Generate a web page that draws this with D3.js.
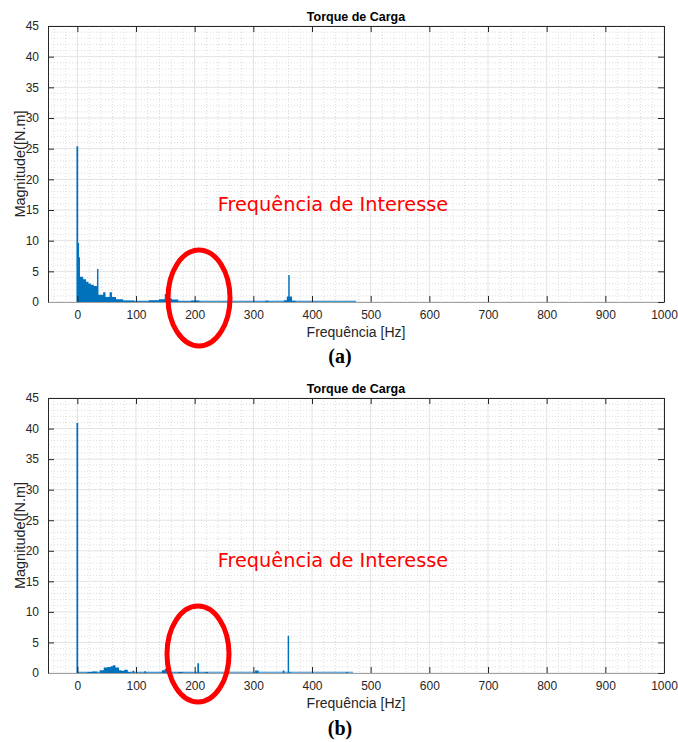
<!DOCTYPE html>
<html>
<head>
<meta charset="utf-8">
<script src="https://cdnjs.cloudflare.com/ajax/libs/d3/7.8.5/d3.min.js"></script>
<style>
  html, body { margin: 0; padding: 0; background: #fff; }
  svg { display: block; }
</style>
</head>
<body>
<svg id="chart" width="678" height="742"></svg>
<script>
// ---------- DATA (step spectrum: value holds from freq[i] to freq[i+1]) ----------
const xTicks = [0, 100, 200, 300, 400, 500, 600, 700, 800, 900, 1000];
const yTicks = [0, 5, 10, 15, 20, 25, 30, 35, 40, 45];

const freqA = [-1.5, 1.5, 3, 4.5, 10, 15, 19, 23, 28, 33.5, 36, 44, 48, 55, 59, 66, 78, 97, 122, 139, 149, 153, 161, 172, 194, 208, 320, 326, 352, 357, 359.5, 362, 366, 372, 475];
const magA  = [25.4, 9.6, 7.3, 4.1, 3.7, 3.3, 3.0, 2.8, 2.6, 5.4, 1.2, 1.6, 0.8, 1.6, 0.8, 0.45, 0.25, 0.12, 0.3, 0.45, 1.3, 0.6, 0.4, 0.12, 0.25, 0.1, 0.2, 0.1, 0.3, 0.9, 4.4, 0.9, 0.2, 0.08, 0];

const freqB = [-1.5, 1.5, 17, 25, 34, 38, 45, 51, 57, 61, 65, 71, 75, 80, 86, 91, 94, 97, 114, 117, 144, 149, 155, 172, 180, 204.5, 207.5, 218, 223, 303, 309, 350, 353, 358.5, 361, 366, 458, 461, 470];
const magB  = [40.9, 0.1, 0.15, 0.25, 0.1, 0.45, 0.9, 1.0, 1.1, 1.25, 0.9, 0.45, 0.35, 0.55, 0.15, 0.08, 0.35, 0.08, 0.3, 0.08, 0.45, 0.7, 0.1, 0.15, 0.08, 1.6, 0.08, 0.15, 0.05, 0.4, 0.05, 0.4, 0.05, 6.1, 0.1, 0.05, 0.15, 0.05, 0];

const titleText = "Torque de Carga";
const xLabelText = "Frequência [Hz]";
const yLabelText = "Magnitude([N.m]";
const noteText = "Frequência de Interesse";
const panelLabels = ["(a)", "(b)"];

// ---------- DRAW ----------
const svg = d3.select("#chart");
const axisColor = "#262626";
const barColor = "#0072BD";

function drawPanel(cfg) {
  const g = svg.append("g");
  const x = d3.scaleLinear().domain([-50, 1000]).range([48, 664]);
  const y = d3.scaleLinear().domain([0, 45]).range([cfg.bottom, cfg.top]);

  // minor grid
  const xMinor = d3.range(-40, 1000, 20).filter(v => v % 100 !== 0);
  const yMinor = d3.range(1, 45, 1).filter(v => v % 5 !== 0);
  g.selectAll(".xm").data(xMinor).join("line")
    .attr("x1", d => x(d)).attr("x2", d => x(d))
    .attr("y1", cfg.top).attr("y2", cfg.bottom)
    .attr("stroke", "#d4d4d4").attr("stroke-width", 0.8).attr("stroke-dasharray", "1,2");
  g.selectAll(".ym").data(yMinor).join("line")
    .attr("x1", 48).attr("x2", 664)
    .attr("y1", d => y(d)).attr("y2", d => y(d))
    .attr("stroke", "#d4d4d4").attr("stroke-width", 0.8).attr("stroke-dasharray", "1,2");
  // major grid
  g.selectAll(".xg").data(xTicks).join("line")
    .attr("x1", d => x(d)).attr("x2", d => x(d))
    .attr("y1", cfg.top).attr("y2", cfg.bottom)
    .attr("stroke", "#e3e3e3").attr("stroke-width", 1);
  g.selectAll(".yg").data(yTicks).join("line")
    .attr("x1", 48).attr("x2", 664)
    .attr("y1", d => y(d)).attr("y2", d => y(d))
    .attr("stroke", "#e3e3e3").attr("stroke-width", 1);

  // near-zero baseline of spectrum
  g.append("line")
    .attr("x1", x(0)).attr("x2", x(cfg.freq[cfg.freq.length - 1]))
    .attr("y1", y(0) - 0.7).attr("y2", y(0) - 0.7)
    .attr("stroke", "#8fbde6").attr("stroke-width", 1.4);

  // spectrum
  const pts = cfg.freq.map((f, i) => [f, cfg.mag[i]]);
  const area = d3.area()
    .x(d => x(d[0])).y0(y(0)).y1(d => y(d[1]))
    .curve(d3.curveStepAfter);
  g.append("path").datum(pts).attr("d", area).attr("fill", barColor);

  // axes (box with inward ticks)
  const axL = d3.axisLeft(y).tickValues(yTicks).tickSizeInner(-6).tickSizeOuter(0).tickPadding(9).tickFormat(d3.format("d"));
  const axB = d3.axisBottom(x).tickValues(xTicks).tickSizeInner(-6).tickSizeOuter(0).tickPadding(8.5).tickFormat(d3.format("d"));
  const axR = d3.axisRight(y).tickValues(yTicks).tickSizeInner(-6).tickSizeOuter(0).tickFormat("");
  const axT = d3.axisTop(x).tickValues(xTicks).tickSizeInner(-6).tickSizeOuter(0).tickFormat("");

  function style(sel) {
    sel.selectAll("path").attr("stroke", axisColor).attr("stroke-width", 1);
    sel.selectAll("line").attr("stroke", axisColor).attr("stroke-width", 1);
    sel.selectAll("text").attr("fill", axisColor)
      .style("font-family", "'Liberation Sans', Arial, sans-serif").style("font-size", "12px");
  }
  g.append("g").attr("transform", `translate(48,0)`).call(axL).call(style);
  const gb = g.append("g").attr("transform", `translate(0,${cfg.bottom})`).call(axB).call(style);
  gb.select("path").attr("stroke", "#a0a0a0");
  g.append("g").attr("transform", `translate(664,0)`).call(axR).call(style);
  g.append("g").attr("transform", `translate(0,${cfg.top})`).call(axT).call(style);

  // title
  g.append("text").attr("x", 356).attr("y", cfg.top - 5)
    .attr("text-anchor", "middle")
    .style("font-family", "'Liberation Sans', Arial, sans-serif")
    .style("font-size", "12.5px").style("font-weight", "bold").attr("fill", "#000")
    .text(titleText);

  // x label
  g.append("text").attr("x", 356).attr("y", cfg.bottom + 34.5)
    .attr("text-anchor", "middle")
    .style("font-family", "'Liberation Sans', Arial, sans-serif")
    .style("font-size", "14px").attr("fill", axisColor)
    .text(xLabelText);

  // y label
  g.append("text")
    .attr("transform", `translate(24.5,${(cfg.top + cfg.bottom) / 2}) rotate(-90)`)
    .attr("text-anchor", "middle")
    .style("font-family", "'Liberation Sans', Arial, sans-serif")
    .style("font-size", "14.5px").attr("fill", axisColor)
    .text(yLabelText);

  // annotation
  g.append("text").attr("x", 333).attr("y", cfg.noteY)
    .attr("text-anchor", "middle")
    .style("font-family", "'DejaVu Sans', Verdana, sans-serif")
    .style("font-size", "19.3px").attr("fill", "#ff0000")
    .text(noteText);

  g.append("ellipse")
    .attr("cx", cfg.ell[0]).attr("cy", cfg.ell[1])
    .attr("rx", 31).attr("ry", 48)
    .attr("fill", "none").attr("stroke", "#ff0000").attr("stroke-width", 5);

  // panel label
  svg.append("text").attr("x", 340).attr("y", cfg.labelY)
    .attr("text-anchor", "middle")
    .style("font-family", "'Liberation Serif', 'Times New Roman', serif")
    .style("font-size", "20px").style("font-weight", "bold").attr("fill", "#000")
    .text(cfg.label);
}

drawPanel({ top: 26, bottom: 302, freq: freqA, mag: magA, noteY: 211, ell: [199, 298], labelY: 363, label: panelLabels[0] });
drawPanel({ top: 398, bottom: 673, freq: freqB, mag: magB, noteY: 567, ell: [198, 654], labelY: 735, label: panelLabels[1] });
</script>
</body>
</html>
